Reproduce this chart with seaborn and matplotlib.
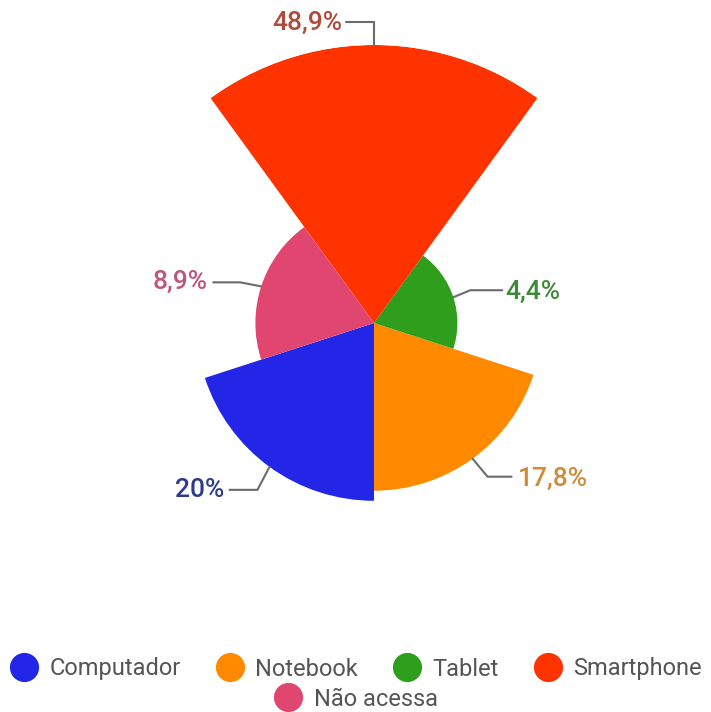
import numpy as np
import matplotlib
matplotlib.use("Agg")
import matplotlib.pyplot as plt
from matplotlib.lines import Line2D
from matplotlib.transforms import IdentityTransform
import seaborn as sns

# Device used to access the internet (share of respondents, %)
categories = ["Computador", "Notebook", "Tablet", "Smartphone", "Não acessa"]
values = [20.0, 17.8, 4.4, 48.9, 8.9]
value_labels = ["20%", "17,8%", "4,4%", "48,9%", "8,9%"]
colors = ["#2326e6", "#ff8a00", "#2f9e1c", "#ff3300", "#e0466f"]
label_colors = ["#2e3a8e", "#d08a3c", "#3f8a3a", "#b04a3a", "#c0557a"]

sns.set_theme(style="white")
plt.rcParams["font.family"] = ["Roboto", "DejaVu Sans"]

fig = plt.figure(figsize=(7.11, 7.12), dpi=100)
fig.patch.set_facecolor("white")

# polar-area (rose) chart: area proportional to value -> radius = sqrt(value)
ax = fig.add_axes([96 / 711, 111 / 712, 556 / 711, 556 / 712], projection="polar")
ax.set_theta_zero_location("N", offset=144)
ax.set_theta_direction(1)

n = len(values)
width = 2 * np.pi / n
theta = np.arange(n) * width
radii = np.sqrt(values)
ax.bar(theta, radii, width=width, color=colors, linewidth=0, align="center")
ax.set_ylim(0, radii.max())
ax.set_axis_off()

# leader lines: elbow offset, end offset, text offset (pixels from the arc point), alignment
leaders = {
    "Computador": ((-12, -23), (-40, -23), (-45, -23), "right"),
    "Notebook": ((15, -18), (39, -18), (45, -20), "left"),
    "Tablet": ((17, 7), (49, 7), (52, 5), "left"),
    "Smartphone": ((0, 23), (-28, 23), (-32, 22), "right"),
    "Não acessa": ((-21, 4), (-48, 4), (-54, 5), "right"),
}

fig.canvas.draw()
for cat, th, r, lab, lc in zip(categories, theta, radii, value_labels, label_colors):
    (ex, ey), (fx, fy), (tx, ty), ha = leaders[cat]
    px, py = ax.transData.transform((th, r))
    fig.add_artist(Line2D([px, px + ex, px + fx], [py, py + ey, py + fy],
                          transform=IdentityTransform(), color="#6b6b6b", lw=1.5,
                          solid_joinstyle="miter"))
    ax.annotate(lab, xy=(th, r), xytext=(tx, ty), textcoords="offset pixels",
                ha=ha, va="center", fontsize=19, fontweight="medium", color=lc,
                annotation_clip=False)

# legend: four entries on the first row, the fifth centred below
def handle(c):
    return Line2D([], [], marker="o", linestyle="none", markersize=21,
                  markerfacecolor=c, markeredgewidth=0)

leg_kw = dict(frameon=False, fontsize=17, labelcolor="#555555", handletextpad=0.45,
              columnspacing=1.45, borderaxespad=0, handlelength=1.25, borderpad=0)
fig.legend([handle(c) for c in colors[:4]], categories[:4], loc="center",
           bbox_to_anchor=(0.5, 1 - 669 / 712), ncol=4, **leg_kw)
fig.legend([handle(colors[4])], categories[4:], loc="center",
           bbox_to_anchor=(0.5, 1 - 699 / 712), ncol=1, **leg_kw)

plt.savefig("out.png", dpi=100, facecolor="white")
